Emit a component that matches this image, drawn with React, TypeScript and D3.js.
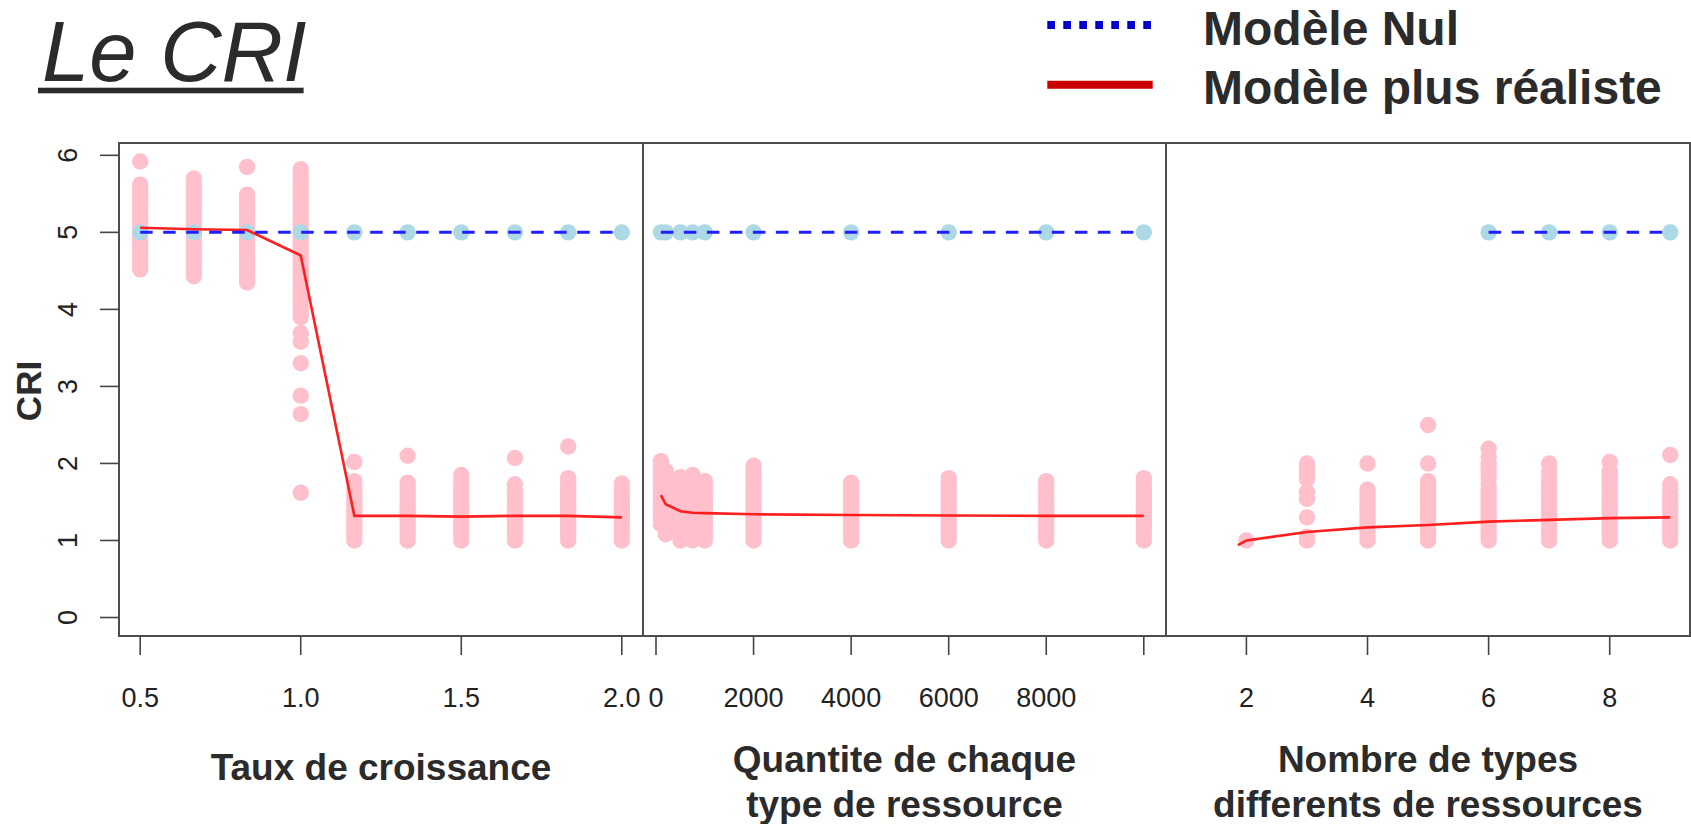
import React from 'react'
import * as d3 from 'd3'

// growth rate panel
const growthRates = [0.5, 0.667, 0.833, 1.0, 1.167, 1.333, 1.5, 1.667, 1.833, 2.0]
const growthCri = [
  [4.52, 4.57, 4.62, 4.67, 4.72, 4.77, 4.82, 4.87, 4.92, 4.97, 5.02, 5.07, 5.12, 5.17, 5.22, 5.27, 5.32, 5.37, 5.42, 5.47, 5.52, 5.57, 5.62, 5.92],
  [4.43, 4.48, 4.53, 4.58, 4.63, 4.68, 4.73, 4.78, 4.83, 4.88, 4.93, 4.98, 5.03, 5.08, 5.13, 5.18, 5.23, 5.28, 5.33, 5.38, 5.43, 5.48, 5.53, 5.58, 5.63, 5.7],
  [4.35, 4.4, 4.45, 4.5, 4.55, 4.6, 4.65, 4.7, 4.75, 4.8, 4.85, 4.9, 4.95, 5.0, 5.05, 5.1, 5.15, 5.2, 5.25, 5.3, 5.35, 5.4, 5.45, 5.49, 5.85],
  [1.62, 2.64, 2.88, 3.3, 3.58, 3.69, 3.9, 3.95, 4.0, 4.05, 4.1, 4.15, 4.2, 4.25, 4.3, 4.35, 4.4, 4.45, 4.5, 4.55, 4.6, 4.65, 4.7, 4.75, 4.8, 4.85, 4.9, 4.95, 5.0, 5.05, 5.1, 5.15, 5.2, 5.25, 5.3, 5.35, 5.4, 5.45, 5.5, 5.55, 5.6, 5.65, 5.7, 5.75, 5.82],
  [1.0, 1.05, 1.1, 1.15, 1.2, 1.25, 1.3, 1.35, 1.4, 1.45, 1.5, 1.55, 1.6, 1.65, 1.7, 1.77, 2.02],
  [1.0, 1.05, 1.1, 1.15, 1.2, 1.25, 1.3, 1.35, 1.4, 1.45, 1.5, 1.55, 1.6, 1.65, 1.7, 1.75, 2.1],
  [1.0, 1.05, 1.1, 1.15, 1.2, 1.25, 1.3, 1.35, 1.4, 1.45, 1.5, 1.55, 1.6, 1.65, 1.7, 1.75, 1.8, 1.85],
  [1.0, 1.05, 1.1, 1.15, 1.2, 1.25, 1.3, 1.35, 1.4, 1.45, 1.5, 1.55, 1.6, 1.65, 1.73, 2.07],
  [1.0, 1.05, 1.1, 1.15, 1.2, 1.25, 1.3, 1.35, 1.4, 1.45, 1.5, 1.55, 1.6, 1.65, 1.7, 1.75, 1.81, 2.22],
  [1.0, 1.05, 1.1, 1.15, 1.2, 1.25, 1.3, 1.35, 1.4, 1.45, 1.5, 1.55, 1.6, 1.67, 1.74]
]
const growthFit = [5.06, 5.04, 5.03, 4.7, 1.32, 1.32, 1.31, 1.32, 1.32, 1.3]
const growthNull = [5, 5, 5, 5, 5, 5, 5, 5, 5, 5]
const growthTicks = [0.5, 1.0, 1.5, 2.0]
const growthLabels = ['0.5', '1.0', '1.5', '2.0']

// resource quantity panel
const quantities = [100, 200, 500, 750, 1000, 2000, 4000, 6000, 8000, 10000]
const quantityCri = [
  [1.21, 1.26, 1.31, 1.36, 1.41, 1.46, 1.51, 1.56, 1.61, 1.66, 1.71, 1.76, 1.81, 1.86, 1.91, 1.97, 2.03],
  [1.08, 1.13, 1.18, 1.23, 1.28, 1.33, 1.38, 1.43, 1.48, 1.53, 1.58, 1.63, 1.68, 1.73, 1.78, 1.84, 1.9],
  [1.0, 1.05, 1.1, 1.15, 1.2, 1.25, 1.3, 1.35, 1.4, 1.45, 1.5, 1.55, 1.6, 1.65, 1.7, 1.76, 1.82],
  [1.0, 1.05, 1.1, 1.15, 1.2, 1.25, 1.3, 1.35, 1.4, 1.45, 1.5, 1.55, 1.6, 1.65, 1.7, 1.75, 1.8, 1.85],
  [1.0, 1.05, 1.1, 1.15, 1.2, 1.25, 1.3, 1.35, 1.4, 1.45, 1.5, 1.55, 1.6, 1.65, 1.71, 1.77],
  [1.0, 1.05, 1.1, 1.15, 1.2, 1.25, 1.3, 1.35, 1.4, 1.45, 1.5, 1.55, 1.6, 1.65, 1.7, 1.75, 1.8, 1.85, 1.9, 1.97],
  [1.0, 1.05, 1.1, 1.15, 1.2, 1.25, 1.3, 1.35, 1.4, 1.45, 1.5, 1.55, 1.6, 1.65, 1.7, 1.75],
  [1.0, 1.05, 1.1, 1.15, 1.2, 1.25, 1.3, 1.35, 1.4, 1.45, 1.5, 1.55, 1.6, 1.65, 1.7, 1.75, 1.81],
  [1.0, 1.05, 1.1, 1.15, 1.2, 1.25, 1.3, 1.35, 1.4, 1.45, 1.5, 1.55, 1.6, 1.65, 1.71, 1.77],
  [1.0, 1.05, 1.1, 1.15, 1.2, 1.25, 1.3, 1.35, 1.4, 1.45, 1.5, 1.55, 1.6, 1.65, 1.7, 1.75, 1.81]
]
const quantityFit = [1.59, 1.47, 1.38, 1.36, 1.355, 1.34, 1.33, 1.325, 1.32, 1.32]
const quantityNull = [5, 5, 5, 5, 5, 5, 5, 5, 5, 5]
const quantityTicks = [0, 2000, 4000, 6000, 8000, 10000]
const quantityLabels = ['0', '2000', '4000', '6000', '8000', '']

// number of resource types panel
const typeCounts = [2, 3, 4, 5, 6, 7, 8, 9]
const typeCri = [
  [1.0],
  [1.0, 1.05, 1.3, 1.54, 1.63, 1.8, 1.85, 1.9, 1.95, 2.0],
  [1.0, 1.05, 1.1, 1.15, 1.2, 1.25, 1.3, 1.35, 1.4, 1.45, 1.5, 1.55, 1.6, 1.66, 2.0],
  [1.0, 1.05, 1.1, 1.15, 1.2, 1.25, 1.3, 1.35, 1.4, 1.45, 1.5, 1.55, 1.6, 1.65, 1.71, 1.77, 2.0, 2.5],
  [1.0, 1.05, 1.1, 1.15, 1.2, 1.25, 1.3, 1.35, 1.4, 1.45, 1.5, 1.55, 1.6, 1.66, 1.72, 1.81, 1.88, 1.94, 2.0, 2.08, 2.19],
  [1.0, 1.05, 1.1, 1.15, 1.2, 1.25, 1.3, 1.35, 1.4, 1.45, 1.5, 1.55, 1.6, 1.65, 1.7, 1.76, 1.83, 1.9, 2.0],
  [1.0, 1.05, 1.1, 1.15, 1.2, 1.25, 1.3, 1.35, 1.4, 1.45, 1.5, 1.55, 1.6, 1.65, 1.7, 1.75, 1.8, 1.85, 1.9, 2.02],
  [1.0, 1.05, 1.1, 1.15, 1.2, 1.25, 1.3, 1.35, 1.4, 1.45, 1.5, 1.55, 1.6, 1.67, 1.73, 2.11]
]
const typeFitX = [1.86, 2, 3, 4, 5, 6, 7, 8, 9]
const typeFit = [0.94, 1.0, 1.11, 1.17, 1.2, 1.245, 1.267, 1.29, 1.3]
const typeNullX = [6, 7, 8, 9]
const typeNull = [5, 5, 5, 5]
const typeTicks = [2, 4, 6, 8]
const typeLabels = ['2', '4', '6', '8']

const criTicks = [0, 1, 2, 3, 4, 5, 6]

const FONT = '"Liberation Sans", Arial, Helvetica, sans-serif'
const TEXT = '#2b2b2b'
const R = 8.2

const y = d3.scaleLinear().domain([-0.24, 6.16]).range([636, 143])

const panels = [
  {
    x: d3.scaleLinear().domain([0.434, 2.066]).range([119, 643]),
    xs: growthRates, cri: growthCri,
    fitX: growthRates, fit: growthFit,
    nullX: growthRates, nul: growthNull,
    ticks: growthTicks, labels: growthLabels,
    title: ['Taux de croissance']
  },
  {
    x: d3.scaleLinear().domain([-266.5, 10455]).range([643, 1166]),
    xs: quantities, cri: quantityCri,
    fitX: quantities, fit: quantityFit,
    nullX: quantities, nul: quantityNull,
    ticks: quantityTicks, labels: quantityLabels,
    title: ['Quantite de chaque', 'type de ressource']
  },
  {
    x: d3.scaleLinear().domain([0.672, 9.326]).range([1166, 1690]),
    xs: typeCounts, cri: typeCri,
    fitX: typeFitX, fit: typeFit,
    nullX: typeNullX, nul: typeNull,
    ticks: typeTicks, labels: typeLabels,
    title: ['Nombre de types', 'differents de ressources']
  }
]

function Panel ({ p }) {
  const line = d3.line().x(d => p.x(d[0])).y(d => y(d[1]))
  const fitPts = p.fitX.map((v, i) => [v, p.fit[i]])
  const nullPts = p.nullX.map((v, i) => [v, p.nul[i]])
  const [x0, x1] = p.x.range()
  const cx = (x0 + x1) / 2
  return <g>
    {p.xs.map((xv, i) => p.cri[i].map((v, j) =>
      <circle key={`${i}-${j}`} cx={p.x(xv)} cy={y(v)} r={R} fill='#ffc0cb' />
    ))}
    {nullPts.map((d, i) => <circle key={i} cx={p.x(d[0])} cy={y(d[1])} r={R} fill='#add8e6' />)}
    <path d={line(fitPts)} fill='none' stroke='#ff1f1f' strokeWidth={2.6} />
    <path d={line(nullPts)} fill='none' stroke='#1f1fff' strokeWidth={3} strokeDasharray='12.5 10.5' />
    {p.ticks.map((t, i) => <g key={i} transform={`translate(${p.x(t)},636)`}>
      <line y1={0} y2={19} stroke='#444' strokeWidth={1.6} />
      <text y={71} textAnchor='middle' fontSize={27} fill='#222'>{p.labels[i]}</text>
    </g>)}
    {p.title.length === 1
      ? <text x={cx} y={780} textAnchor='middle' fontSize={37} fontWeight='bold' fill={TEXT}>{p.title[0]}</text>
      : p.title.map((s, i) => <text key={i} x={cx} y={772 + i * 45} textAnchor='middle' fontSize={37} fontWeight='bold' fill={TEXT}>{s}</text>)}
  </g>
}

export default function App () {
  return <svg width={1691} height={824} viewBox='0 0 1691 824'
    style={{ position: 'absolute', left: 0, top: 0, display: 'block', background: '#fff' }}
    fontFamily={FONT}>
    <rect width={1691} height={824} fill='#fff' />
    <text x={42} y={81} fontSize={85} fontStyle='italic' fill={TEXT}>Le CRI</text>
    <rect x={38} y={87.7} width={265.6} height={5.6} fill={TEXT} />

    <line x1={1047.3} x2={1152} y1={25} y2={25} stroke='#0000cc' strokeWidth={8} strokeDasharray='7.7 8.3' />
    <line x1={1047.3} x2={1152.7} y1={84.7} y2={84.7} stroke='#cc0000' strokeWidth={8} />
    <text x={1203} y={45} fontSize={48} fontWeight='bold' fill={TEXT}>Modèle Nul</text>
    <text x={1203} y={104} fontSize={48} fontWeight='bold' fill={TEXT}>Modèle plus réaliste</text>

    {panels.map((p, i) => <Panel key={i} p={p} />)}

    <rect x={119} y={143} width={1571} height={493} fill='none' stroke='#4d4d4d' strokeWidth={2} />
    <line x1={643} x2={643} y1={143} y2={636} stroke='#4d4d4d' strokeWidth={2} />
    <line x1={1166} x2={1166} y1={143} y2={636} stroke='#4d4d4d' strokeWidth={2} />

    {criTicks.map(t => <g key={t} transform={`translate(119,${y(t)})`}>
      <line x1={-19} x2={0} stroke='#444' strokeWidth={1.6} />
      <text transform='translate(-42,0) rotate(-90)' textAnchor='middle' fontSize={27} fill='#222'>{t}</text>
    </g>)}
    <text transform={`translate(41,${391}) rotate(-90)`} textAnchor='middle' fontSize={35} fontWeight='bold' fill={TEXT}>CRI</text>
  </svg>
}
